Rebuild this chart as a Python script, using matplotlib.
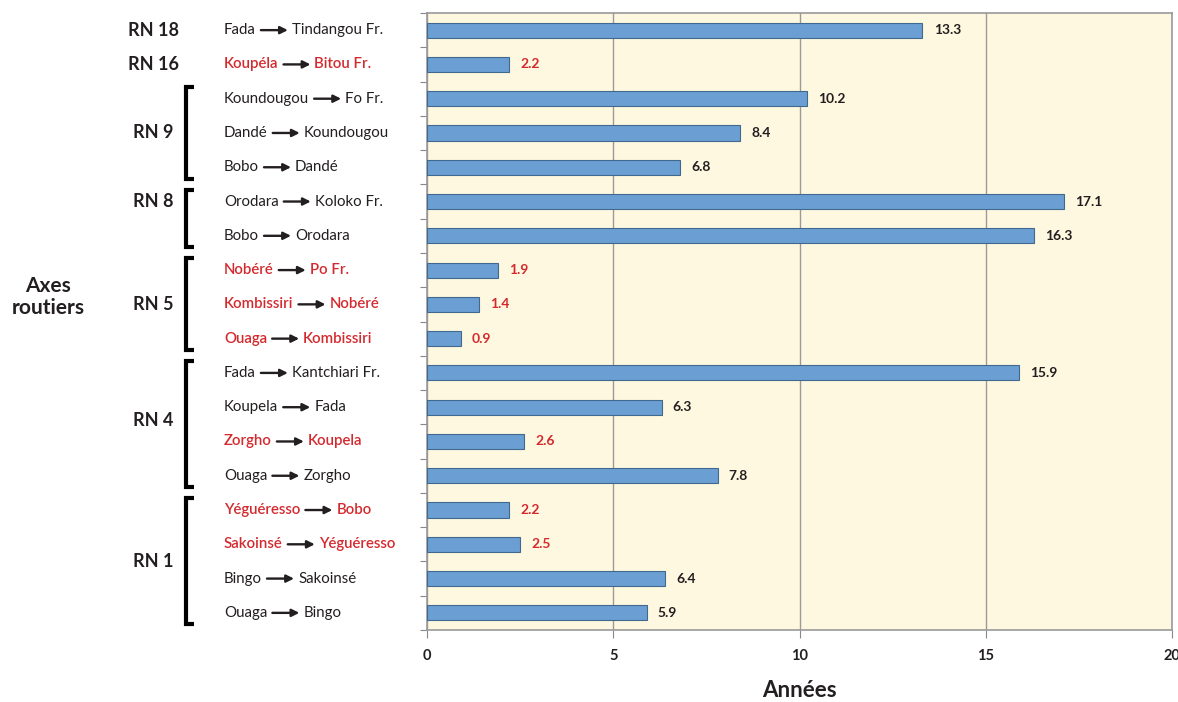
import matplotlib
matplotlib.use("Agg")
import matplotlib.pyplot as plt
from matplotlib.transforms import blended_transform_factory
import numpy as np

plt.rcParams['font.family'] = ['Lato', 'DejaVu Sans']

# road sections, top to bottom
origins = ["Fada", "Koupéla", "Koundougou", "Dandé", "Bobo", "Orodara", "Bobo",
           "Nobéré", "Kombissiri", "Ouaga", "Fada", "Koupela", "Zorgho", "Ouaga",
           "Yéguéresso", "Sakoinsé", "Bingo", "Ouaga"]
destinations = ["Tindangou Fr.", "Bitou Fr.", "Fo Fr.", "Koundougou", "Dandé",
                "Koloko Fr.", "Orodara", "Po Fr.", "Nobéré", "Kombissiri",
                "Kantchiari Fr.", "Fada", "Koupela", "Zorgho", "Bobo",
                "Yéguéresso", "Sakoinsé", "Bingo"]
years = [13.3, 2.2, 10.2, 8.4, 6.8, 17.1, 16.3, 1.9, 1.4, 0.9,
         15.9, 6.3, 2.6, 7.8, 2.2, 2.5, 6.4, 5.9]
highlight = [False, True, False, False, False, False, False, True, True, True,
             False, False, True, False, True, True, False, False]

# national roads: name, first row, last row
roads = ["RN 18", "RN 16", "RN 9", "RN 8", "RN 5", "RN 4", "RN 1"]
road_first = [0, 1, 2, 5, 7, 10, 14]
road_last = [0, 1, 4, 6, 9, 13, 17]
road_label_rows = [0, 1, 3, 5, 8, 11.4, 15.5]

RED = "#d42a2f"
DARK = "#231f20"

fig = plt.figure(figsize=(11.78, 7.02), dpi=100)
ax = fig.add_axes([427 / 1178, 1 - 630 / 702, 745 / 1178, 617 / 702])
ax.set_facecolor("#fff8e0")

y = np.arange(len(years))
ax.barh(y, years, height=0.44, color="#6b9fd3", edgecolor="#41698f", linewidth=0.8, zorder=3)

for yi, v, hl in zip(y, years, highlight):
    ax.text(v + 0.3, yi, f"{v:.1f}", va="center", ha="left", fontsize=10,
            fontweight="bold", color=RED if hl else DARK, zorder=4)

ax.set_xlim(0, 20)
ax.set_ylim(len(years) - 0.5, -0.5)
ax.set_xticks([0, 5, 10, 15, 20])
ax.tick_params(axis="x", direction="out", length=6, color="#888888", pad=8,
               labelsize=10.5, labelcolor=DARK)
for lab in ax.get_xticklabels():
    lab.set_fontweight("bold")
ax.set_yticks(np.arange(len(years) + 1) - 0.5)
ax.set_yticklabels([])
ax.tick_params(axis="y", direction="out", length=5, color="#888888")
ax.grid(axis="x", color="#9a9a9a", linewidth=1, zorder=1)
for s in ax.spines.values():
    s.set_color("#9a9a9a")
    s.set_linewidth(1.2)

ax.set_xlabel("Années", fontsize=16, fontweight="bold", color=DARK, labelpad=12)

# route labels: origin, arrow, destination
tr = blended_transform_factory(ax.transAxes, ax.transData)
x0 = (224 - 427) / 745
starts = []
for yi, o, hl in zip(y, origins, highlight):
    t = ax.text(x0, yi, o, transform=tr, ha="left", va="center", fontsize=10.8,
                color=RED if hl else DARK, fontweight="semibold" if hl else "normal")
    starts.append(t)

fig.canvas.draw()
renderer = fig.canvas.get_renderer()
inv = ax.transAxes.inverted()
for t, yi, d, hl in zip(starts, y, destinations, highlight):
    bb = t.get_window_extent(renderer)
    ya = ax.transData.transform((0, yi))[1]
    a0 = inv.transform((bb.x1 + 5, ya))[0]
    a1 = inv.transform((bb.x1 + 32, ya))[0]
    ax.annotate("", xy=(a1, yi), xytext=(a0, yi), xycoords=tr, textcoords=tr,
                arrowprops=dict(arrowstyle="-|>", color=DARK, lw=1.7,
                                mutation_scale=11, shrinkA=0, shrinkB=0))
    x2 = inv.transform((bb.x1 + 36, ya))[0]
    ax.text(x2, yi, d, transform=tr, ha="left", va="center", fontsize=10.8,
            color=RED if hl else DARK, fontweight="semibold" if hl else "normal")

# road names and brackets
xr = (153 - 427) / 745
for name, r in zip(roads, road_label_rows):
    ax.text(xr, r, name, transform=tr, ha="center", va="center", fontsize=13,
            fontweight="bold", color=DARK)

xb = (186 - 427) / 745
xbt = (194 - 427) / 745
for f, l in zip(road_first, road_last):
    if l == f:
        continue
    ys = [f - 0.35, f - 0.35, l + 0.33, l + 0.33]
    xs = [xbt, xb, xb, xbt]
    ax.plot(xs, ys, transform=tr, color="black", lw=3, clip_on=False,
            solid_joinstyle="miter", solid_capstyle="butt")

fig.text(48 / 1178, 1 - 297 / 702, "Axes\nroutiers", ha="center", va="center",
         fontsize=15, fontweight="bold", color=DARK, linespacing=1.1)

fig.savefig("out.png", dpi=100, facecolor="white")
